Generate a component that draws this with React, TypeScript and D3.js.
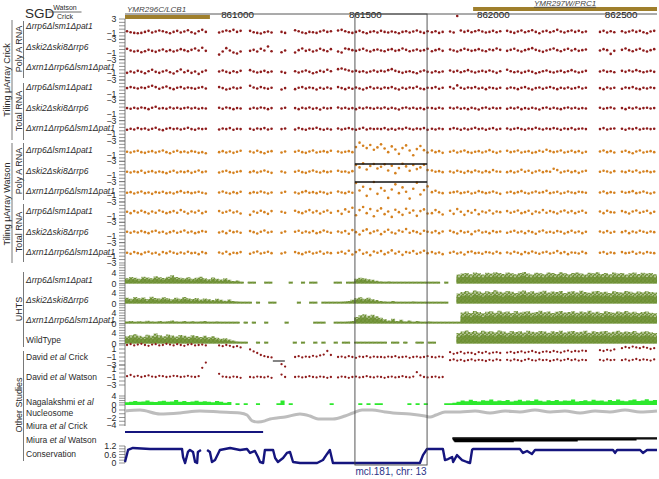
import React from 'react';
import * as d3 from 'd3';

const FONT = '"Liberation Sans", Arial, Helvetica, sans-serif';
const W = 659, H = 479;

// ---------- genomic window ----------
const windowStart = 860560;
const windowEnd = 862640;
const coordTicks = [861000, 861500, 862000, 862500];

const geneNames = ['YMR296C/LCB1', 'YMR297W/PRC1'];
const geneStarts = [860560, 861921];
const geneEnds = [860892, 862640];

const mclLabel = 'mcl.181, chr: 13';
const mclStart = 861459;
const mclEnd = 861741;

const strainLabels = ['Δrrp6Δlsm1Δpat1', 'Δski2Δski8Δrrp6', 'Δxrn1Δrrp6Δlsm1Δpat1'];
const uhtsLabels = ['Δrrp6Δlsm1Δpat1', 'Δski2Δski8Δrrp6', 'Δxrn1Δrrp6Δlsm1Δpat1', 'WildType'];

// ---------- tiling array probes (bp) ----------
const tilingPos = [
  860568, 860582, 860596, 860610, 860624, 860638, 860652, 860666, 860680, 860694, 860708, 860722, 860736, 860750, 860764, 860778, 860792, 860806, 860820, 860834, 860848, 860862, 860876,
  860928, 860942, 860956, 860970, 860984, 860998, 861012,
  861049, 861063, 861077, 861091, 861105, 861119, 861133,
  861172, 861186,
  861225, 861239, 861253, 861267, 861281, 861295, 861309, 861323, 861337, 861351, 861365,
  861393, 861407, 861421, 861435, 861449, 861463, 861477, 861491, 861505, 861519, 861533, 861547,
  861561, 861575, 861589, 861603, 861617, 861631, 861645, 861659, 861673, 861687, 861701, 861715, 861729, 861743,
  861760, 861774, 861788, 861802,
  861831, 861845, 861859, 861873, 861887, 861901, 861915, 861929, 861943, 861957, 861971, 861985, 861999, 862013, 862027,
  862054, 862068, 862082, 862096, 862110, 862124, 862138, 862152, 862166, 862180, 862194, 862208, 862222, 862236, 862250, 862264, 862278, 862292, 862306, 862320, 862334, 862348, 862362,
  862417, 862431, 862445, 862459, 862473,
  862503, 862517, 862531, 862545, 862559, 862573, 862587, 862601, 862615, 862629,
];

// Tiling uArray Crick: Poly A (3) then Total RNA (3)
const crickPolyA_rrp6 = [
  -0.6,-0.9,-1.1,-1.2,-1.1,-0.8,-0.5,-1.0,-0.7,-0.4,-0.6,-0.9,-1.2,-0.8,-0.5,-1.0,-0.7,-0.3,-0.9,-1.3,-0.6,-0.2,-0.8,
  -1.0,-0.7,-0.4,-0.6,-0.2,-0.8,-0.5,
  -0.5,-0.9,-1.1,-1.3,-0.9,-0.7,-1.0,
  -0.8,-1.1,
  -0.3,-0.6,-1.0,-1.2,-0.8,-0.9,-1.1,-0.7,-0.4,-0.8,-0.6,
  -0.4,-0.2,-0.6,-0.9,-1.1,-0.8,-0.5,-0.9,-1.2,-0.8,-0.6,-1.0,
  -0.5,-0.8,-1.0,-0.7,-0.9,-1.2,-0.8,-0.6,-1.0,-0.7,-0.4,-0.8,-1.1,-0.6,
  -0.9,-0.6,-1.1,-0.8,
  -0.7,-1.0,3.9,-0.4,-0.8,-0.5,-0.9,-0.6,-0.3,-0.7,-1.0,-0.8,-0.5,-0.9,-0.6,
  -0.5,-0.8,-1.1,-0.7,-0.4,-0.9,-0.6,-0.3,-0.8,-1.2,-0.7,-0.5,-0.9,-0.6,-0.2,-0.7,-1.0,-0.6,-0.4,-0.8,-0.5,-0.9,-0.7,
  -0.8,-0.5,-1.0,-0.6,-0.9,
  -0.6,-1.0,-0.7,-0.4,-0.8,-0.5,-0.9,-1.2,-0.7,-0.5,
];
const crickPolyA_ski = [
  0.2,-0.3,-0.6,-0.4,-0.8,-0.5,-0.1,-0.4,-0.7,-0.3,0.0,-0.5,-0.2,-0.6,-0.3,0.1,-0.2,-0.5,-0.1,0.3,-0.3,0.5,-0.4,
  -1.5,-0.6,0.4,-0.3,-0.9,-1.2,-0.6,
  -0.4,-0.1,-0.6,0.2,-0.3,0.9,-0.5,
  -0.8,-0.3,
  -0.9,-0.2,0.3,-0.4,-0.1,-0.6,-0.3,0.2,-0.2,-0.5,0.1,
  -0.6,-0.9,0.3,0.1,-0.2,-0.4,-0.1,0.2,-0.3,-0.6,-0.2,0.0,
  -0.3,-0.5,-0.1,0.1,-0.4,-0.2,0.3,-0.1,-0.5,-0.3,0.0,-0.4,-0.2,0.2,
  -0.5,-0.2,0.1,-0.4,
  0.0,-0.3,-0.6,-0.2,0.2,-0.1,-0.4,-0.2,0.1,-0.3,-0.5,0.0,-0.2,0.3,-0.1,
  -0.4,-0.1,0.2,-0.3,-0.6,-0.2,0.1,0.4,-0.1,-0.4,-0.7,-0.3,0.0,0.3,-0.2,-0.5,-0.1,0.2,-0.3,0.1,-0.4,-0.2,0.0,
  -0.3,0.1,-0.2,-1.3,-0.4,
  -0.1,0.3,-0.2,-0.5,-0.1,0.2,-0.3,-0.6,-0.2,0.1,
];
const crickPolyA_xrn = [
  -0.9,-0.5,-0.8,-0.3,-0.6,-1.0,-0.4,0.0,-0.6,-0.9,-0.5,-0.2,-0.7,-1.1,-0.4,0.1,-0.7,-0.3,-0.9,-0.5,-1.2,-0.6,-0.2,
  -0.5,-0.2,-0.6,-0.9,-0.4,-0.7,-0.3,
  -0.1,-0.5,-0.8,-0.6,-0.3,-0.7,-0.5,
  -0.6,-0.9,
  -0.4,-0.8,-0.5,-0.2,-0.6,-1.0,-0.7,-0.3,-0.6,0.0,-0.4,
  0.2,0.4,0.1,-0.2,-0.5,-0.3,-0.6,-0.4,-0.8,-0.5,-0.2,-0.6,
  -0.3,-0.5,-0.1,0.2,-0.3,-0.6,-0.9,-0.6,-0.4,-0.7,-1.0,-0.5,-0.2,-0.6,
  -0.8,-0.4,-0.7,-0.5,
  -0.2,-0.6,-0.3,-0.7,-0.4,-0.1,-0.5,-0.8,-0.5,-0.3,-0.6,-0.2,-0.5,-0.9,-0.4,
  0.0,-0.4,-0.7,-0.5,-0.9,-0.6,-0.3,-0.6,-1.0,-0.7,-0.4,-0.2,-0.6,-0.8,-0.5,-0.3,-0.7,-0.4,-0.1,-0.5,-0.8,-0.6,-0.3,
  -0.5,-0.2,-0.6,-0.4,-0.7,
  -0.3,-0.6,-0.2,-0.5,-0.1,-0.4,-0.7,-0.5,-0.3,-0.6,
];
const crickTotal_rrp6 = [
  0.6,0.9,0.7,0.5,0.8,0.6,1.0,1.3,0.9,0.4,0.8,1.1,0.6,0.3,0.7,0.9,0.5,0.8,0.6,0.4,0.7,0.9,0.5,
  0.9,0.6,0.2,0.4,0.8,0.5,0.7,
  1.3,0.8,0.5,0.9,0.6,0.4,0.7,
  0.2,0.6,
  0.3,0.7,0.9,0.5,0.8,0.6,0.2,0.7,0.4,0.8,0.5,
  0.9,0.6,0.3,0.7,0.4,0.8,0.5,0.2,0.6,0.9,0.5,0.7,
  0.4,0.8,0.6,0.9,0.5,0.2,0.7,0.4,0.8,0.6,1.0,0.5,0.3,0.7,
  0.6,0.9,0.4,0.7,
  0.9,0.5,1.4,0.7,0.4,0.8,0.6,0.9,0.5,0.7,0.3,0.8,0.6,0.4,0.7,
  0.5,0.8,0.6,0.3,0.7,0.9,0.5,0.2,0.6,0.8,0.4,0.7,0.9,0.6,0.3,0.7,0.5,0.8,0.4,0.6,0.9,0.5,0.7,
  0.6,0.3,0.8,0.5,0.7,
  0.4,0.8,0.6,0.9,0.5,0.3,0.7,0.5,0.8,0.6,
];
const crickTotal_ski = [
  0.7,0.5,0.8,0.6,0.9,0.7,0.4,0.8,1.1,0.6,0.7,0.5,0.9,0.6,0.8,0.5,0.7,0.9,0.6,0.8,0.5,0.7,0.6,
  0.8,0.5,0.9,0.7,0.4,0.7,0.6,
  0.5,0.8,0.6,0.9,0.7,0.4,0.7,
  0.6,0.8,
  0.7,0.4,0.8,0.6,0.9,0.5,0.7,0.3,0.8,0.6,0.7,
  0.9,0.6,0.8,0.5,0.7,0.4,0.8,0.6,0.9,0.7,0.5,0.8,
  0.6,0.9,0.5,0.8,0.6,0.3,0.7,0.9,0.6,0.8,0.5,0.7,0.4,0.8,
  0.7,0.5,0.8,0.6,
  0.8,0.6,0.9,0.5,0.7,0.4,0.8,0.6,0.3,0.7,0.9,0.5,0.8,0.6,0.7,
  0.5,0.8,0.6,0.9,0.4,0.7,0.5,0.8,0.6,0.3,0.7,0.9,0.5,0.8,0.6,0.4,0.7,0.9,0.6,0.8,0.5,0.7,0.6,
  0.8,0.5,0.7,0.9,0.6,
  0.7,0.4,0.8,0.6,0.9,0.5,0.7,0.8,0.6,0.7,
];
const crickTotal_xrn = [
  0.3,0.6,0.4,0.8,0.5,0.7,0.3,0.6,0.9,0.4,0.2,0.6,0.8,0.5,0.7,0.4,0.6,0.9,0.5,0.3,0.7,0.5,0.6,
  0.4,0.7,0.5,0.8,0.3,0.6,0.5,
  0.6,0.3,0.7,0.5,0.8,0.4,0.6,
  0.5,0.7,
  0.4,0.8,0.5,0.3,0.7,0.6,0.9,0.5,0.3,0.6,0.4,
  0.7,0.4,0.6,0.8,0.5,0.3,0.6,0.9,0.4,0.7,0.5,0.6,
  0.5,0.8,0.4,0.6,0.3,0.7,0.5,0.9,0.6,0.4,0.7,0.5,0.8,0.3,
  0.6,0.4,0.7,0.5,
  0.5,0.8,0.6,0.3,0.7,0.4,0.6,0.9,0.5,0.7,0.3,0.6,0.8,0.4,0.6,
  0.7,0.4,0.6,0.8,0.5,0.3,0.7,0.5,0.9,0.6,0.4,0.7,0.5,0.8,0.6,0.3,0.7,0.5,0.8,0.4,0.6,0.7,0.5,
  0.5,0.8,0.4,0.6,0.7,
  0.6,0.3,0.7,0.5,0.8,0.4,0.6,0.7,0.5,0.6,
];

// Tiling uArray Watson
const watsonPolyA_rrp6 = [
  -0.2,-0.4,-0.1,0.1,-0.3,-0.5,-0.2,0.0,-0.4,-0.1,0.2,-0.3,-0.6,-0.2,0.1,-0.3,-0.1,-0.4,0.0,-0.2,-0.5,-0.3,-0.6,
  -0.3,0.0,-0.4,-0.1,-0.5,-0.2,0.1,
  -0.1,-0.4,0.1,-0.3,-0.6,-0.2,0.0,
  -0.4,-0.1,
  -0.2,0.1,-0.3,-0.5,-0.1,0.2,-0.4,-0.2,0.0,-0.3,0.1,
  -0.1,-0.4,-0.2,0.0,-0.3,1.2,2.5,1.6,0.9,1.8,0.4,1.1,
  2.0,0.8,-0.3,1.4,0.5,-0.8,0.9,1.7,0.2,-1.2,0.6,1.5,0.3,-0.4,
  0.2,-0.3,0.0,-0.5,
  -0.2,0.1,-0.4,-0.1,0.2,-0.3,-0.5,-0.2,0.0,-0.4,-0.1,0.3,-0.2,-0.5,-0.1,
  0.1,-0.3,-0.1,0.2,-0.4,-0.2,0.0,-0.5,-0.3,0.1,-0.2,0.4,0.0,-0.3,-0.1,0.2,-0.4,-0.2,0.1,-0.3,0.0,-0.5,-0.2,
  -0.1,0.2,-0.3,0.0,-0.4,
  -0.2,0.1,-0.3,-0.6,-0.1,0.2,-0.4,-0.2,0.0,-0.3,
];
const watsonPolyA_ski = [
  -0.1,-0.3,0.0,-0.2,0.2,-0.4,-0.1,0.1,-0.3,0.0,-0.2,-0.5,-0.1,0.2,-0.3,0.0,-0.2,0.1,-0.4,-0.1,0.3,-0.2,0.0,
  -0.3,0.0,0.2,-0.2,-0.4,-0.1,0.1,
  -0.2,0.1,-0.3,0.0,0.3,-0.1,-0.4,
  0.0,-0.3,
  -0.1,0.2,-0.2,-0.4,0.0,0.3,-0.1,-0.3,0.1,-0.2,0.0,
  0.2,-0.1,0.0,-0.3,0.1,1.9,1.2,2.4,0.6,1.6,2.2,0.9,
  1.4,2.1,0.3,1.7,-0.5,1.0,2.3,1.5,0.2,1.9,0.7,1.2,2.0,0.4,
  0.3,-0.1,0.1,-0.2,
  0.0,-0.3,0.2,-0.1,-0.4,0.1,-0.2,0.3,0.0,-0.3,0.1,-0.2,0.4,0.0,-0.1,
  -0.2,0.1,-0.3,0.0,0.5,-0.1,0.2,-0.4,0.0,0.3,-0.2,0.1,-0.1,0.8,0.4,-0.3,0.0,0.2,-0.2,0.1,-0.4,0.0,0.2,
  -0.1,0.2,0.0,-0.3,0.1,
  0.0,-0.2,0.2,-0.1,0.3,-0.3,0.0,0.1,-0.2,0.0,
];
const watsonPolyA_xrn = [
  -0.3,-0.1,-0.5,-0.2,0.1,-0.4,-0.2,-0.6,-0.1,-0.3,0.0,-0.4,-0.2,-0.5,-0.1,0.2,-0.3,-0.1,-0.4,-0.2,0.0,-0.3,-0.5,
  -0.2,0.1,-0.3,-0.5,-0.1,-0.4,0.0,
  -0.4,-0.1,-0.3,0.1,-0.2,-0.5,-0.2,
  -0.3,0.0,
  -0.2,-0.5,-0.1,0.2,-0.3,-0.1,-0.4,0.0,-0.2,-0.6,-0.3,
  0.1,-0.2,-0.4,0.0,-0.3,2.6,0.4,1.5,-1.2,0.8,2.9,-0.6,
  1.1,0.3,-1.8,0.7,2.2,-0.4,1.3,0.0,-2.0,0.9,2.7,-0.8,0.5,1.6,
  -0.1,0.3,-0.2,-0.4,
  -0.3,-0.1,0.1,-0.4,-0.2,0.0,-0.5,-0.3,0.2,-0.1,-0.4,-0.2,0.1,-0.3,-0.6,
  -0.2,0.0,-0.4,-0.1,0.2,-0.3,-0.5,-0.2,0.1,-0.3,-0.1,0.3,-0.4,-0.2,0.0,-0.5,-0.3,0.1,-0.2,-0.4,0.0,-0.1,-0.3,
  -0.2,0.1,-0.4,-0.1,-0.3,
  0.0,-0.3,-0.1,0.2,-0.4,-0.2,0.1,-0.3,-0.5,-0.2,
];
const watsonTotal_rrp6 = [
  0.1,-0.3,0.3,-0.1,0.4,0.0,-0.4,0.2,-0.2,0.5,0.1,-0.3,0.0,0.3,-0.2,0.6,0.1,-0.4,0.2,-0.1,0.4,-0.3,0.1,
  0.3,-0.2,0.1,0.5,-0.1,0.2,-0.4,
  -0.8,0.2,-0.2,0.4,0.0,-0.5,0.3,
  0.1,-0.2,
  0.4,0.0,-0.3,0.2,0.6,-0.1,0.3,-0.4,0.1,0.5,-0.2,
  0.3,-0.5,0.8,0.1,1.3,-0.9,0.6,1.5,-0.3,0.9,-1.2,0.4,
  1.1,-0.6,0.2,-1.4,0.7,0.0,-0.8,1.0,-0.2,0.5,-1.1,0.3,0.8,-0.4,
  -0.3,0.6,0.0,-0.7,
  0.4,-0.5,0.9,0.1,-0.8,0.3,-0.2,0.6,-0.6,0.2,-0.1,0.5,-0.4,0.2,0.0,
  0.3,-0.2,0.1,0.5,-0.3,0.0,0.4,-0.5,0.2,-0.1,0.6,-0.2,0.3,0.0,-0.4,0.2,0.5,-0.1,0.3,-0.3,0.1,0.4,-0.2,
  0.2,-0.3,0.4,0.0,-0.1,
  0.3,0.0,-0.4,0.2,0.5,-0.2,0.1,0.4,-0.3,0.1,
];
const watsonTotal_ski = [
  0.2,-0.1,0.3,0.0,0.4,0.1,-0.2,0.3,0.5,0.0,0.2,-0.3,0.1,0.4,-0.1,0.2,0.6,0.0,0.3,-0.2,0.1,0.4,0.2,
  0.0,0.3,-0.2,0.5,0.1,0.3,-0.1,
  0.4,0.1,-0.3,0.2,0.6,0.0,0.2,
  -0.1,0.3,
  0.2,0.5,-0.1,0.3,0.0,0.4,-0.2,0.1,0.6,0.2,-0.1,
  0.3,0.0,0.4,-0.4,0.7,0.1,-0.6,0.5,0.9,-0.2,0.3,0.6,
  -0.5,0.2,0.8,0.0,-0.3,0.6,0.2,1.0,-0.1,0.4,0.1,-0.4,0.5,0.2,
  0.0,0.4,-0.2,0.3,
  0.5,0.1,-0.3,0.4,0.0,0.2,-0.5,0.3,0.6,0.0,0.2,-0.2,0.4,0.1,0.3,
  -0.1,0.2,0.5,0.0,0.3,-0.2,0.4,0.1,-0.4,0.3,0.6,0.0,0.2,-0.1,0.4,0.2,-0.3,0.1,0.5,0.0,0.3,-0.2,0.2,
  0.3,0.0,0.4,-0.1,0.2,
  0.1,0.4,-0.2,0.3,0.0,0.5,0.2,-0.1,0.3,0.1,
];
const watsonTotal_xrn = [
  0.0,-0.3,0.2,-0.1,-0.4,0.1,0.3,-0.2,0.0,-0.5,0.2,-0.1,0.4,0.0,-0.3,0.1,-0.2,0.3,-0.1,0.0,-0.4,0.2,-0.1,
  0.1,-0.2,0.3,-0.4,0.0,-0.1,0.2,
  -0.3,0.1,0.4,-0.2,0.0,0.3,-0.1,
  -0.2,0.1,
  0.2,-0.1,-0.4,0.1,0.3,-0.2,0.0,0.4,-0.3,0.1,-0.1,
  0.0,0.3,-0.2,0.6,-0.5,0.2,0.8,-0.3,0.1,-0.7,0.4,0.0,
  0.5,-0.4,0.1,0.7,-0.2,0.3,-0.6,0.2,0.0,0.5,-0.3,0.1,0.6,-0.1,
  0.2,-0.2,0.1,-0.4,
  0.0,0.3,-0.2,0.1,-0.5,0.2,0.4,-0.1,0.0,-0.3,0.2,0.1,-0.2,0.3,-0.1,
  0.1,-0.2,0.3,0.0,-0.4,0.2,-0.1,0.4,0.0,-0.3,0.1,0.3,-0.2,0.0,0.5,-0.1,0.2,-0.4,0.1,0.0,-0.2,0.3,-0.1,
  0.0,0.2,-0.3,0.1,-0.1,
  0.2,-0.1,0.0,0.3,-0.3,0.1,-0.2,0.2,0.0,-0.1,
];

const tilingCrick = [crickPolyA_rrp6, crickPolyA_ski, crickPolyA_xrn, crickTotal_rrp6, crickTotal_ski, crickTotal_xrn];
const tilingWatson = [watsonPolyA_rrp6, watsonPolyA_ski, watsonPolyA_xrn, watsonTotal_rrp6, watsonTotal_ski, watsonTotal_xrn];

// annotation bars drawn inside the mcl box (Watson track index, value)
const boxMarkTracks = [1, 2];
const boxMarkValues = [2.2, 2.9];

// ---------- UHTS read density (16 bp bins from windowStart) ----------
const binSize = 16;
const uhts_rrp6 = [
  2.0,2.5,2.2,1.8,2.6,2.3,2.0,2.8,2.4,2.1,2.6,3.2,2.5,2.2,2.0,2.4,1.8,2.2,2.6,2.0,1.6,2.3,1.8,1.5,2.0,1.4,1.0,1.2,
  0.3,0,0.3,0.3,0,0,0.4,0.3,0,0,0,0,0.3,0,0,0.3,0,0.3,0.3,0,0,0,0,0.3,0.3,0,0.3,0.6,
  1.8,2.2,2.0,1.6,1.4,1.1,0.8,
  0.6,0.8,0.5,0.3,0.7,0.4,0.3,0.6,0.4,0.3,0.5,0.3,0.2,0.3,0,0.3,
  0,0,
  3.5,3.8,4.0,3.6,4.2,3.9,3.5,4.1,3.8,4.3,4.0,3.7,4.2,3.9,3.6,4.0,4.4,3.8,3.5,4.1,3.9,3.6,4.2,4.0,3.7,4.3,3.9,3.6,4.0,4.2,3.8,3.5,4.1,3.9,4.3,3.7,4.0,3.6,4.2,3.8,4.0,3.5,3.9,4.2,3.7,4.1,3.8,4.0,3.6,
];
const uhts_ski = [
  2.2,1.8,2.5,2.0,2.3,1.7,2.6,2.1,1.9,2.4,2.0,1.6,2.2,1.8,2.5,2.0,1.7,2.1,1.5,1.9,1.6,1.3,1.8,1.4,1.1,1.5,1.0,0.8,
  0.5,0.3,0.6,0,0.3,0,0,0.3,0.3,0,0,0,0,0,0.3,0,0,0.3,0.3,0,0.3,0.3,0.5,0.3,0.6,0.8,1.0,1.4,
  2.0,2.4,1.8,2.2,1.6,1.3,1.0,
  0.8,0.6,1.0,0.5,0.7,0.4,0.6,0.8,0.5,0.3,0.6,0.4,0.3,0.5,0.3,0.3,
  0,0,
  3.8,4.4,4.8,4.2,5.0,4.6,4.1,4.7,4.4,5.1,4.5,4.2,4.8,4.5,4.0,4.6,5.0,4.3,4.7,4.1,4.5,4.9,4.2,4.6,4.4,4.8,4.0,4.5,4.7,4.2,4.9,4.4,4.1,4.6,4.8,4.3,4.5,4.0,4.7,4.4,4.2,4.8,4.5,4.1,4.6,4.3,4.7,4.4,4.2,
];
const uhts_xrn = [
  0.8,1.0,0.6,0.9,0.7,1.1,0.8,0.6,1.0,0.7,0.9,1.2,0.8,0.6,1.0,0.7,0.9,0.5,0.8,1.0,0.6,0.4,0.8,0.3,0.6,0.3,0.5,0.3,
  0,0.3,0,0.5,0,0,0.3,0,0,0,0,0.3,0,0,0,0,0,0,0.3,0.3,0.3,0,0,0.3,0.3,0.6,0.8,1.0,
  2.5,3.2,3.6,3.0,3.4,2.8,2.2,
  1.6,1.2,1.8,1.0,1.4,0.8,1.2,0.6,1.0,0.7,0.5,0.8,0.4,0.3,0.3,0.3,
  0.3,0.3,
  0.5,4.2,4.6,4.0,4.8,4.4,3.9,4.5,4.7,4.1,4.9,4.3,4.6,4.0,4.8,4.2,4.5,4.7,4.1,4.4,4.9,4.3,4.6,4.0,4.5,4.8,4.2,4.4,4.7,4.1,4.6,4.3,4.9,4.2,4.5,4.0,4.7,4.4,4.1,4.6,4.3,4.8,4.2,4.5,4.0,4.4,4.6,4.1,3.9,
];
const uhts_wt = [
  2.8,3.2,3.6,3.0,2.6,3.4,3.0,3.8,3.2,2.8,3.5,3.1,2.7,3.3,3.0,2.6,3.2,2.9,2.5,3.0,2.4,2.8,2.2,1.8,2.0,1.5,1.2,0.8,
  0.5,0.3,0,0,0.3,0,0.3,0,0,0,0,0,0,0.3,0,0.3,0,0,0.3,0,0.3,0,0,0.3,0,0.3,0.3,0,
  0.3,0.3,0.4,0.3,0.3,0.5,0.3,
  0.3,0,0.3,0.3,0,0.3,0,0,0.3,0.3,0,0.3,0.3,0,0,0,
  0,0,
  4.0,4.6,5.0,4.4,4.8,4.2,4.9,4.5,4.7,4.3,5.0,4.6,4.1,4.8,4.4,4.7,4.2,4.9,4.5,4.3,4.8,4.6,4.1,4.7,4.4,4.9,4.2,4.6,4.8,4.3,4.5,4.9,4.1,4.7,4.4,4.6,4.8,4.2,4.5,4.9,4.3,4.6,4.4,4.8,4.1,4.5,4.7,4.3,4.0,
];
const uhtsTracks = [uhts_rrp6, uhts_ski, uhts_xrn, uhts_wt];

// ---------- Other studies ----------
const davidCrick = [
  2.0,2.2,1.9,2.1,2.3,2.0,1.8,2.1,2.2,1.9,2.0,2.3,2.1,1.9,2.2,2.0,1.8,2.1,2.2,1.9,2.0,2.1,1.9,
  1.9,1.7,2.0,1.8,1.5,1.7,1.4,
  0.9,0.4,0.0,-0.5,-0.8,-1.0,-1.1,
  -2.8,-3.4,
  -1.0,-0.8,-1.1,-0.9,-1.0,-0.7,-0.9,-0.6,-0.4,0.5,-0.5,
  -1.0,-0.9,-1.1,-0.8,-1.0,-1.2,-0.9,-1.0,-0.8,-1.1,-0.9,-1.0,
  -1.0,-1.1,-0.9,-1.0,-0.8,-1.1,-1.0,-0.9,-1.2,-1.0,-0.9,-1.1,-1.0,-0.8,
  -1.0,-1.1,-0.9,-1.0,
  -1.8,-1.6,-1.9,-1.7,-2.0,-1.8,-1.6,-1.9,-1.7,-1.8,-2.0,-1.7,-1.9,-1.6,-1.8,
  -1.7,-1.9,-1.6,-1.8,-2.0,-1.7,-1.5,-1.8,-1.9,-1.6,-1.8,-1.7,-2.0,-1.8,-1.6,-1.9,-1.7,-1.5,-1.8,-1.6,-1.9,-1.7,-1.8,
  -1.7,-1.9,-1.6,-1.8,-1.7,
  -1.8,-1.6,-1.9,-1.7,-1.5,-1.8,-1.6,-1.7,-1.9,-1.6,
];
const davidWatson = [
  -0.8,-0.5,-0.9,-0.7,-1.0,-0.8,-0.6,-0.9,-1.0,-0.7,-0.8,-1.0,-0.9,-0.7,-0.8,-1.0,-0.9,-0.7,-0.9,-1.0,-0.8,1.3,2.6,
  -0.2,-0.9,-1.0,-1.1,-0.9,-1.0,-1.2,
  -1.0,-1.1,-0.9,-1.0,-1.1,-0.9,-1.2,
  -0.4,-1.0,
  -1.0,-0.9,-1.1,-1.0,-0.8,-1.0,-1.1,-0.9,-1.0,-1.2,-1.0,
  -1.1,-0.9,-1.0,-1.2,-1.0,-0.9,-1.1,-1.0,-0.8,-1.0,-1.1,-0.9,
  -1.0,-1.2,-1.0,-0.9,-1.1,-1.0,-0.8,-1.0,-1.1,-0.9,0.2,-0.6,-1.0,-1.1,
  -1.0,-0.9,-1.1,-1.0,
  5.2,4.8,5.0,5.3,4.9,5.1,5.0,4.7,5.2,5.0,5.3,4.9,5.1,5.2,5.0,
  5.1,5.3,5.0,5.2,5.4,5.1,5.3,5.5,5.2,5.0,5.3,5.4,5.2,5.5,5.3,5.1,5.4,5.6,5.3,5.5,5.4,5.6,5.5,
  5.7,5.5,5.8,5.6,5.9,
  6.2,6.5,6.3,6.6,6.4,6.2,6.5,6.3,6.0,6.2,
];
const davidMarkStart = 861138, davidMarkEnd = 861185, davidMarkValue = -2;

const nagalakshmi = [
  1.2,1.5,1.8,1.4,1.6,2.0,1.5,1.3,1.7,1.9,1.4,1.6,2.2,1.5,1.8,1.3,1.6,1.9,1.4,1.7,1.5,1.2,1.8,1.4,1.0,1.3,
  0,0.8,0,0.8,0,0,0.8,0,0,0,0,0.8,2.0,0,0.8,0,0,0,0,0,0,0,0,0,0.8,0,0,0,0,0,0,0.8,0,0.8,0,0.8,0.8,0,0,0,0,0,0,0.8,0,0.8,0,0.8,0,0,0,0,0.8,0.8,1.0,
  1.5,2.0,1.7,2.3,1.8,1.6,2.1,1.9,2.4,1.7,2.0,1.8,2.2,1.6,1.9,2.3,1.7,2.0,1.8,2.5,1.9,1.6,2.1,1.8,2.2,1.7,2.0,1.9,2.4,1.6,1.8,2.1,1.7,2.3,1.9,2.0,1.6,2.2,1.8,2.5,1.9,1.7,2.1,2.4,1.8,2.0,2.6,1.9,2.2,
];

const nucPos = [860560,860619,860697,860775,860853,860931,861010,861037,861057,861080,861107,861127,861154,861186,861244,861283,861315,861373,861420,861451,861487,861526,861577,861608,861674,861733,861753,861776,861811,861870,861929,861987,862046,862104,862163,862222,862280,862339,862398,862456,862515,862574,862640];
const nucVal = [-0.27,0,-1.07,-0.8,-0.27,-0.53,-0.8,-1.33,-2.9,-3.2,-2.9,-2.4,-2.13,-1.87,-1.07,-1.6,-2.4,-2.4,-1.6,-0.8,0,0,-0.53,-0.8,-1.07,-1.6,-1.87,-1.33,-0.53,-0.53,-0.27,-0.8,-0.27,-0.53,0,-0.53,-0.27,-0.8,-0.27,-0.53,0,-0.53,-0.27];

const miuraCrickStarts = [860560];
const miuraCrickEnds = [861100];
const miuraWatsonStarts = [861840, 861840, 861842, 861845, 861848];
const miuraWatsonEnds = [862640, 862640, 862560, 862330, 862080];

const consPos = [860560,860572,860591,860658,860724,860783,860787,860795,860806,860814,860826,860834,860842,860845,860857,860869,860881,860892,860900,860912,860931,860971,861010,861037,861049,861068,861080,861088,861100,861107,861139,861147,861158,861178,861193,861205,861217,861244,861311,861334,861350,861361,861373,861557,861713,861725,861741,861803,861811,861823,861839,861843,861858,861878,861897,861909,861917,861921,862104,862116,862132,862151,862163,862468,862476,862484,862574,862585,862601,862640];
const consVal = [0.07,0.92,1.06,0.99,0.99,0.99,0.42,0,0.78,0.92,0.78,0.07,0,0.78,0.92,null,0.92,0.78,0.07,0.21,0.92,1.06,0.92,0.99,0.71,0.85,0.42,0.07,0,0.92,0.92,0.35,0.07,0.35,0.71,0.78,0.07,0,0,0.21,0.64,0.92,0,0,0,0.56,0.99,0.99,0.21,0.28,0.42,0.07,0.56,0.21,0.07,0,0.92,0.99,0.99,0.71,0.85,0.64,0.92,0.92,0.71,0.92,0.92,0.71,0.92,0.92];

// ---------- styling ----------
const C_CRICK = '#8e1b1b';
const C_WATSON = '#d5811f';
const C_UHTS = '#6d8f33';
const C_NAGA = '#2de82d';
const C_NUC = '#bdbdbd';
const C_NAVY = '#15157e';
const C_GENE = '#9f7f2c';
const TXT = '#2a2a2a';

const X0 = 125, X1 = 657;
const TOP = 19, TH = 20.33;

const minus = (v: number) => (v < 0 ? '\u2212' + Math.abs(v) : String(v));

function Ticks({ scale, ticks, labels, fmt }: any) {
  return (
    <g>
      {ticks.map((t: number, i: number) => (
        <line key={'t' + i} x1={119} x2={X0} y1={scale(t)} y2={scale(t)} stroke="#666" strokeWidth={0.7} />
      ))}
      {labels.map((l: number, i: number) => (
        <text key={'l' + i} x={116.5} y={scale(l)} dy="0.36em" textAnchor="end" fontSize={8.8} fill={TXT}>
          {fmt ? fmt(l) : minus(l)}
        </text>
      ))}
    </g>
  );
}

function VLabel({ x, yc, text, y1, y2, lineX }: any) {
  return (
    <g>
      <text transform={`translate(${x},${yc}) rotate(-90)`} textAnchor="middle" fontSize={9} fill={TXT}>{text}</text>
      <line x1={lineX} x2={lineX} y1={y1} y2={y2} stroke="#555" strokeWidth={0.8} />
    </g>
  );
}

export default function App() {
  const x = d3.scaleLinear().domain([windowStart, windowEnd]).range([X0, X1]);
  const tilingScale = (i: number) => d3.scaleLinear().domain([-3, 3]).range([TOP + (i + 1) * TH, TOP + i * TH]);
  const allTiling = [...tilingCrick, ...tilingWatson];

  const binArea = (heights: number[], base: number, ppu: number, minH: number, frac: number) => {
    const pts: [number, number][] = [];
    heights.forEach((h, k) => {
      const s = windowStart + k * binSize;
      pts.push([s, h], [s + binSize, h]);
    });
    return d3.area<[number, number]>()
      .defined(d => d[1] > 0)
      .x(d => x(d[0]))
      .y0(base)
      .y1(d => base - Math.max(d[1] * ppu * frac, minH))(pts) || '';
  };

  const davidC = d3.scaleLinear().domain([-3, 3]).range([365, 341]);
  const davidW = d3.scaleLinear().domain([-3, 3]).range([385, 361]);
  const naga = d3.scaleLinear().domain([0, 4]).range([405, 396]);
  const nuc = d3.scaleLinear().domain([-4, 0]).range([425, 410]);
  const cons = d3.scaleLinear().domain([0, 1.2]).range([463, 446]);

  const nucLine = d3.line<number>().x((_, i) => x(nucPos[i])).y(d => nuc(d)).curve(d3.curveMonotoneX)(nucVal) || '';
  const consLine = d3.line<number | null>()
    .defined(d => d !== null)
    .x((_, i) => x(consPos[i]))
    .y(d => cons(d as number))(consVal) || '';

  const boxX0 = x(mclStart), boxX1 = x(mclEnd);

  return (
    <svg width={W} height={H} viewBox={`0 0 ${W} ${H}`} style={{ position: 'absolute', left: 0, top: 0, fontFamily: FONT }}>
      <defs>
        <pattern id="uhtsSpeck" width={4} height={4} patternUnits="userSpaceOnUse">
          <rect width={4} height={4} fill={C_UHTS} fillOpacity={0.5} />
          <circle cx={1} cy={1} r={1.05} fill={C_UHTS} />
          <circle cx={3} cy={2.6} r={1.05} fill={C_UHTS} />
          <circle cx={1.4} cy={3.6} r={0.8} fill={C_UHTS} />
        </pattern>
      </defs>
      <rect x={0} y={0} width={W} height={H} fill="#fff" />

      {/* Header */}
      <text x={25} y={18} fontSize={13.5} fill={TXT}>SGD</text>
      <text x={65} y={9.5} fontSize={7} textAnchor="middle" fill={TXT}>Watson</text>
      <line x1={48.5} x2={81.5} y1={12} y2={12} stroke="#444" strokeWidth={0.8} />
      <text x={65} y={19} fontSize={7} textAnchor="middle" fill={TXT}>Crick</text>

      {/* gene models */}
      {geneNames.map((g, i) => {
        const x0 = x(geneStarts[i]), x1 = x(geneEnds[i]);
        const first = geneStarts[i] <= windowStart;
        const barY = first ? 15 : 7;
        return (
          <g key={g}>
            <rect x={x0} y={barY} width={x1 - x0} height={4} fill={C_GENE} />
            <text x={first ? x0 + 2 : (x0 + x1) / 2} y={first ? 12 : 5.8} textAnchor={first ? 'start' : 'middle'}
              fontSize={8} fontStyle="italic" fill="#444" textDecoration={first ? undefined : 'underline'}>{g}</text>
          </g>
        );
      })}

      {/* top coordinate axis */}
      {coordTicks.map(t => (
        <text key={t} x={x(t)} y={18} textAnchor="middle" fontSize={9.8} fill="#111">{t}</text>
      ))}
      <line x1={X0} x2={X1} y1={14} y2={14} stroke="#444" strokeWidth={0.9} />

      {/* left axis lines */}
      <line x1={X0} x2={X0} y1={TOP} y2={426} stroke="#555" strokeWidth={0.8} />
      <line x1={X0} x2={X0} y1={446} y2={463} stroke="#555" strokeWidth={0.8} />

      {/* group labels */}
      <VLabel x={10} yc={80} text="Tiling μArray Crick" y1={20} y2={140} lineX={12} />
      <VLabel x={21.5} yc={49} text="Poly A RNA" y1={21} y2={78} lineX={23.5} />
      <VLabel x={21.5} yc={111} text="Total RNA" y1={83} y2={140} lineX={23.5} />
      <VLabel x={10} yc={204} text="Tiling μArray Watson" y1={143} y2={263} lineX={12} />
      <VLabel x={21.5} yc={171} text="Poly A RNA" y1={143} y2={200} lineX={23.5} />
      <VLabel x={21.5} yc={232} text="Total RNA" y1={204} y2={262} lineX={23.5} />
      <VLabel x={21.5} yc={309} text="UHTS" y1={272} y2={347} lineX={23.5} />
      <VLabel x={21.5} yc={405} text="Other Studies" y1={351} y2={461} lineX={23.5} />

      {/* tiling tracks */}
      {allTiling.map((vals, i) => {
        const ys = tilingScale(i);
        const top = TOP + i * TH;
        const color = i < 6 ? C_CRICK : C_WATSON;
        const labelY = top + (i < 6 ? 7.3 : 9.5) + 3;
        return (
          <g key={'tr' + i}>
            <Ticks scale={ys} ticks={d3.range(-3, 4)} labels={i === 0 ? [3, -1, -3] : [-1, -3]} />
            <text x={26} y={labelY} fontSize={8.5} fontStyle="italic" fill={TXT}>{strainLabels[i % 3]}</text>
            {vals.map((v, k) => (k < tilingPos.length ? (
              <circle key={k} cx={x(tilingPos[k])} cy={ys(v)} r={1.3} fill={color} />
            ) : null))}
          </g>
        );
      })}

      {/* UHTS */}
      {uhtsTracks.map((h, j) => {
        const base = 283.5 + 20 * j;
        const ys = d3.scaleLinear().domain([0, 4]).range([base, base - 10.5]);
        return (
          <g key={'u' + j}>
            <Ticks scale={ys} ticks={d3.range(0, 8)} labels={[4, 0]} />
            <text x={26} y={base - 1} fontSize={8.5} fontStyle={j < 3 ? 'italic' : 'normal'} fill={TXT}>{uhtsLabels[j]}</text>
            <path d={binArea(h, base, 2.6, 1.8, 1)} fill="url(#uhtsSpeck)" />
            <path d={binArea(h, base, 2.6, 1.8, 0.65)} fill={C_UHTS} fillOpacity={0.85} />
          </g>
        );
      })}

      {/* David et al */}
      <Ticks scale={davidC} ticks={d3.range(-3, 3)} labels={[1, -1, -3]} />
      <Ticks scale={davidW} ticks={d3.range(-3, 3)} labels={[1, -1, -3]} />
      {davidCrick.map((v, k) => (
        <circle key={'dc' + k} cx={x(tilingPos[k])} cy={davidC(v)} r={1.15} fill={C_CRICK} />
      ))}
      {davidWatson.map((v, k) => (
        <circle key={'dw' + k} cx={x(tilingPos[k])} cy={davidW(v)} r={1.15} fill={C_CRICK} />
      ))}
      <line x1={x(davidMarkStart)} x2={x(davidMarkEnd)} y1={davidC(davidMarkValue)} y2={davidC(davidMarkValue)} stroke="#333" strokeWidth={1.2} />

      {/* Nagalakshmi */}
      <Ticks scale={naga} ticks={d3.range(0, 5)} labels={[4, 0]} />
      <path d={binArea(nagalakshmi, 405, 2.25, 1.8, 1)} fill={C_NAGA} />

      {/* Nucleosome */}
      <Ticks scale={nuc} ticks={d3.range(-4, 1)} labels={[0, -2, -4]} />
      <path d={nucLine} fill="none" stroke={C_NUC} strokeWidth={3} />

      {/* Miura */}
      {miuraCrickStarts.map((s, i) => (
        <line key={'mc' + i} x1={x(s)} x2={x(miuraCrickEnds[i])} y1={432} y2={432} stroke={C_NAVY} strokeWidth={2.2} />
      ))}
      {miuraWatsonStarts.map((s, i) => (
        <line key={'mw' + i} x1={x(s)} x2={x(miuraWatsonEnds[i])} y1={438 + i * 0.9} y2={438 + i * 0.9} stroke="#000" strokeWidth={1.4} />
      ))}

      {/* Conservation */}
      <Ticks scale={cons} ticks={d3.range(0, 7).map(i => i * 0.2)} labels={[1.2, 0.6, 0]} fmt={(v: number) => String(v)} />
      <path d={consLine} fill="none" stroke={C_NAVY} strokeWidth={2.4} strokeLinejoin="round" />

      {/* other studies labels */}
      <text x={26} y={360} fontSize={8.5} fill={TXT}>David <tspan fontStyle="italic">et al</tspan> Crick</text>
      <text x={26} y={380} fontSize={8.5} fill={TXT}>David <tspan fontStyle="italic">et al</tspan> Watson</text>
      <text x={26} y={405} fontSize={8.5} fill={TXT}>Nagalakshmi <tspan fontStyle="italic">et al</tspan></text>
      <text x={26} y={416} fontSize={8.5} fill={TXT}>Nucleosome</text>
      <text x={26} y={429} fontSize={8.5} fill={TXT}>Miura <tspan fontStyle="italic">et al</tspan> Crick</text>
      <text x={26} y={443} fontSize={8.5} fill={TXT}>Miura <tspan fontStyle="italic">et al</tspan> Watson</text>
      <text x={26} y={457} fontSize={8.5} fill={TXT}>Conservation</text>

      {/* mcl box */}
      <rect x={boxX0} y={14} width={boxX1 - boxX0} height={451} fill="none" stroke="#444" strokeWidth={0.9} />
      {boxMarkTracks.map((t, i) => {
        const ys = tilingScale(6 + t);
        return <line key={'bm' + i} x1={boxX0} x2={boxX1} y1={ys(boxMarkValues[i])} y2={ys(boxMarkValues[i])} stroke="#111" strokeWidth={1.6} />;
      })}
      <text x={(boxX0 + boxX1) / 2} y={474.5} textAnchor="middle" fontSize={10} fill="#2b3488">{mclLabel}</text>
    </svg>
  );
}
